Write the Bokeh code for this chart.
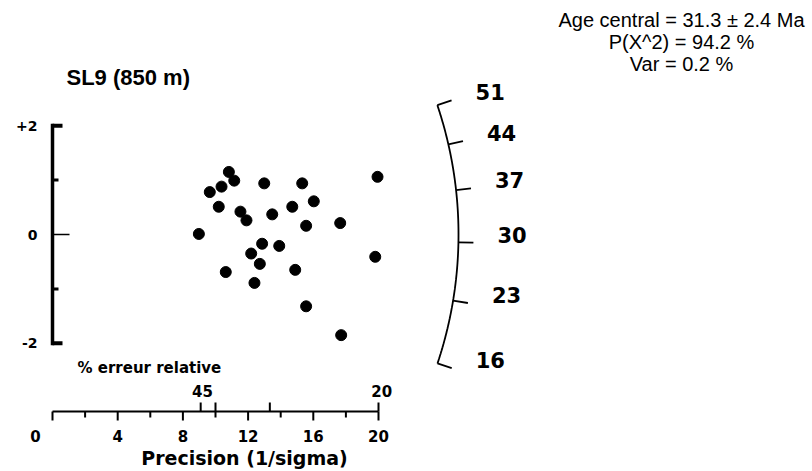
import numpy as np
from bokeh.plotting import figure
from bokeh.models import Range1d
from bokeh.core.properties import value
from bokeh.embed import file_html
from bokeh.resources import INLINE

# ---------------- data ----------------
title = "SL9 (850 m)"
stats_lines = ["Age central = 31.3 \u00b1 2.4 Ma", "P(X^2) = 94.2 %", "Var = 0.2 %"]

precision = [8.98, 9.65, 10.20, 10.37, 10.82, 11.15, 10.63, 11.53, 11.90, 12.19,
             12.39, 12.72, 12.86, 12.99, 13.48, 13.91, 14.71, 14.89, 15.32, 15.56,
             16.03, 15.56, 17.65, 17.71, 19.80, 19.94]
std_estimate = [0.01, 0.78, 0.51, 0.88, 1.15, 0.99, -0.69, 0.42, 0.26, -0.35,
                -0.89, -0.54, -0.17, 0.94, 0.37, -0.21, 0.51, -0.65, 0.94, 0.16,
                0.61, -1.32, 0.21, -1.85, -0.41, 1.06]

age_ticks = [16, 23, 30, 37, 44, 51]          # Ma, on the radial scale
ref_age = 31.0                                # age of the horizontal ray
radial_k = 0.064                              # slope per sqrt(Ma)

prec_major = [0, 4, 8, 12, 16, 20]
prec_minor = [2, 6, 10, 14, 18]
rel_err_ticks = [11, 10, 7.5, 5]              # % relative error
rel_err_labels = [("45", 9.2), ("20", 20.2)]

z_major = [-2, 2]
z_minor = [-1, 1]
z_labels = ["-2", "0", "+2"]
z_label_vals = [-2, 0, 2]

# ---------------- geometry (page pixels) ----------------
W, H = 812, 471
X0_PX, Y0_PX = 52.0, 234.0   # page position of precision 0 / z 0
SX, SY = 16.3, 54.4          # px per unit
R_ARC = 406.0


def X(px):
    return (px - X0_PX) / SX


def Y(py):
    return (Y0_PX - py) / SY


p = figure(width=W, height=H, output_backend="svg", toolbar_location=None,
           x_axis_location=None, y_axis_location=None, min_border=0,
           x_range=Range1d(X(0), X(W)), y_range=Range1d(Y(H), Y(0)))
p.grid.visible = False
p.outline_line_color = None
p.background_fill_color = "white"

BOLD = value("DejaVu Sans")

# title
p.text(x=[X(66)], y=[Y(77)], text=[title], text_font=value("Liberation Sans"),
       text_font_style="bold", text_font_size="22px", text_baseline="middle",
       text_align="left", text_color="black")

# stats
p.text(x=[X(681)] * 3, y=[Y(19), Y(41), Y(63)], text=stats_lines,
       text_font=value("Liberation Sans"), text_font_size="20px",
       text_baseline="middle", text_align="center", text_color="black")

# ---------------- vertical (z) axis ----------------
p.segment(x0=[0], y0=[z_major[0] - 2 / SY], x1=[0], y1=[z_major[1] + 2 / SY],
          line_width=3.5, line_color="black")
p.segment(x0=[0] * 2, y0=z_major, x1=[X(62)] * 2, y1=z_major,
          line_width=4, line_color="black")
p.segment(x0=[0] * 2, y0=z_minor, x1=[X(58)] * 2, y1=z_minor,
          line_width=3, line_color="black")
p.segment(x0=[0], y0=[0], x1=[X(69)], y1=[0], line_width=1.5, line_color="black")
p.text(x=[X(37)] * 3, y=z_label_vals, text=z_labels, text_font=BOLD,
       text_font_style="bold", text_font_size="14px", text_baseline="middle",
       text_align="right", text_color="black")

# ---------------- bottom precision axis ----------------
ax_y = Y(411)
p.segment(x0=[prec_major[0]], y0=[ax_y], x1=[prec_major[-1]], y1=[ax_y],
          line_width=2, line_color="black")
p.segment(x0=prec_major, y0=[ax_y] * len(prec_major), x1=prec_major,
          y1=[ax_y - 9 / SY] * len(prec_major), line_width=2, line_color="black")
p.segment(x0=prec_minor, y0=[ax_y] * len(prec_minor), x1=prec_minor,
          y1=[ax_y - 6 / SY] * len(prec_minor), line_width=2, line_color="black")
lab_x = [float(v) for v in prec_major]
lab_x[0] = lab_x[0] - 17 / SX
p.text(x=lab_x, y=[Y(435)] * len(prec_major), text=[str(v) for v in prec_major],
       text_font=BOLD, text_font_style="bold", text_font_size="15px",
       text_baseline="middle", text_align="center", text_color="black")
p.text(x=[X(244)], y=[Y(457)], text=["Precision (1/sigma)"], text_font=BOLD,
       text_font_style="bold", text_font_size="19px", text_baseline="middle",
       text_align="center", text_color="black")

# relative-error ticks (above the axis)
rel_x = [100.0 / e for e in rel_err_ticks]
p.segment(x0=rel_x, y0=[ax_y] * len(rel_x), x1=rel_x,
          y1=[ax_y + 9 / SY] * len(rel_x), line_width=2, line_color="black")
p.text(x=[v for _, v in rel_err_labels], y=[Y(390)] * len(rel_err_labels),
       text=[t for t, _ in rel_err_labels], text_font=BOLD, text_font_style="bold",
       text_font_size="15px", text_baseline="middle", text_align="center",
       text_color="black")
p.text(x=[X(77)], y=[Y(367)], text=["% erreur relative"], text_font=BOLD,
       text_font_style="bold", text_font_size="15px", text_baseline="middle",
       text_align="left", text_color="black")

# ---------------- radial age scale ----------------
def theta(age):
    s = radial_k * (np.sqrt(np.asarray(age, dtype=float)) - np.sqrt(ref_age))
    return np.arctan(s * SY / SX)


ages_fine = np.linspace(min(age_ticks), max(age_ticks), 200)
th = theta(ages_fine)
p.line(R_ARC * np.cos(th) / SX, R_ARC * np.sin(th) / SY, line_width=1.8,
       line_color="black")
tt = theta(age_ticks)
tick_end_x = (R_ARC + 15) * np.cos(tt) / SX
tick_end_y = (R_ARC + 15) * np.sin(tt) / SY
p.segment(x0=R_ARC * np.cos(tt) / SX, y0=R_ARC * np.sin(tt) / SY,
          x1=tick_end_x, y1=tick_end_y, line_width=1.8, line_color="black")
p.text(x=tick_end_x + 24 / SX, y=tick_end_y + 8 / SY,
       text=[str(a) for a in age_ticks], text_font=BOLD, text_font_style="bold",
       text_font_size="21px", text_baseline="middle", text_align="left",
       text_color="black")

# ---------------- grains ----------------
p.scatter(precision, std_estimate, size=11, marker="circle",
          fill_color="black", line_color="black")

open("out.html", "w").write(file_html(p, INLINE))
